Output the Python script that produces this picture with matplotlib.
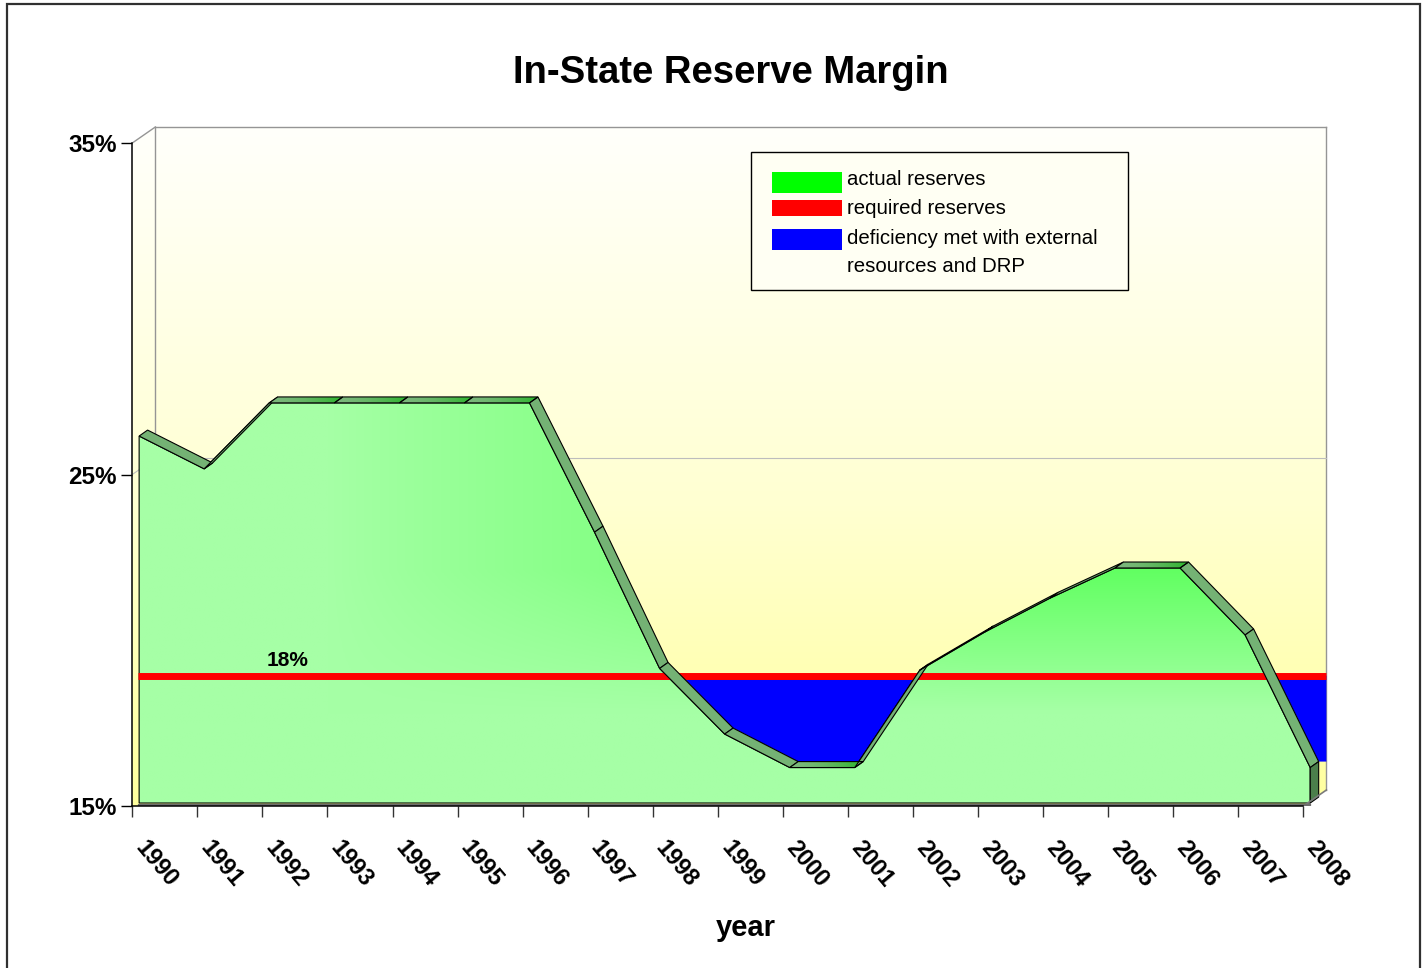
#!/usr/bin/env python3
"""In-State Reserve Margin chart, redrawn with matplotlib (Excel 3D area look)."""

from __future__ import annotations

import matplotlib

matplotlib.use("Agg")

import matplotlib.pyplot as plt
import matplotlib.transforms as mtransforms
import numpy as np
from matplotlib.colors import LinearSegmentedColormap, to_rgb
from matplotlib.patches import Polygon, Rectangle


YEARS = [
    "1990", "1991", "1992", "1993", "1994", "1995", "1996", "1997", "1998", "1999",
    "2000", "2001", "2002", "2003", "2004", "2005", "2006", "2007", "2008",
]
ACTUAL_RESERVES = [
    26.16, 25.17, 27.16, 27.16, 27.16, 27.16, 27.16, 23.26, 19.15, 17.17,
    16.16, 16.16, 19.1, 20.25, 21.27, 22.18, 22.18, 20.16, 16.16,
]
REQUIRED_RESERVES = 18.93
REQUIRED_LABEL = "18%"
Y_TICKS = [15, 25, 35]

LEGEND_LABELS = [
    "actual reserves",
    "required reserves",
    "deficiency met with external\nresources and DRP",
]

COLORS = {
    "face_light": "#A6FFA6",
    "face_dark": "#62FF62",
    "band": "#74B274",
    "band_flat_start": "#7CB87C",
    "band_flat_end": "#2CB52C",
    "end_face": "#4B7F4B",
    "legend_green": "#00FF00",
    "red": "#FF0000",
    "blue": "#0000FF",
    "wall_edge": "#959595",
    "grid": "#BDBDBD",
}

WALL_CMAP = LinearSegmentedColormap.from_list(
    "wall", [(0.0, "#FFFF9E"), (0.45, "#FFFFD2"), (1.0, "#FFFFFB")]
)

FIG_W, FIG_H = 1422, 968

# fake 3D geometry, in data units (categories, percent)
WX, WY = 0.354, 0.483   # wall depth
SX, SY = 0.105, 0.09    # series front face offset
BX, BY = 0.13, 0.18     # series thickness


def px(xp: float, yp: float) -> tuple[float, float]:
    return xp / FIG_W, 1 - yp / FIG_H


def draw_wall(ax, last: int) -> None:
    top = Y_TICKS[-1]
    bottom = Y_TICKS[0]
    outline = [
        (0, bottom), (0, top), (WX, top + WY), (last + WX, top + WY),
        (last + WX, bottom + WY), (last, bottom),
    ]
    clip = Polygon(outline, closed=True, fc="none", ec="none")
    ax.add_patch(clip)
    im = ax.imshow(
        np.linspace(0, 1, 256)[:, None], cmap=WALL_CMAP, origin="lower",
        extent=[0, last + WX, bottom, top + WY], aspect="auto", zorder=1,
    )
    im.set_clip_path(clip)

    edge = dict(color=COLORS["wall_edge"], lw=1, zorder=2)
    ax.plot([WX, last + WX], [top + WY] * 2, **edge)
    ax.plot([0, WX], [top, top + WY], **edge)
    ax.plot([WX, WX], [bottom + WY, top + WY], **edge)
    ax.plot([last + WX] * 2, [bottom + WY, top + WY], **edge)
    for level in Y_TICKS[1:-1]:
        ax.plot([WX, last + WX], [level + WY] * 2, color=COLORS["grid"], lw=0.8, zorder=2)
        ax.plot([0, WX], [level, level + WY], color=COLORS["grid"], lw=0.8, zorder=2)
    ax.plot([last, last + WX], [bottom, bottom + WY], color="#7A7A7A", lw=1.2, zorder=7)


def draw_area(ax, x: np.ndarray, v: np.ndarray) -> None:
    last = x[-1]
    base = Y_TICKS[0]

    # deficiency: between required line and back edge of the series
    bx = np.append(x + SX + BX, last + WX)
    by = np.append(v + BY, v[-1] + BY)
    ax.fill_between(bx, by, REQUIRED_RESERVES, where=by < REQUIRED_RESERVES,
                    interpolate=True, color=COLORS["blue"], lw=0, zorder=3)

    # front face with a soft green gradient
    face_pts = [(x[0] + SX, base + SY), *zip(x + SX, v), (last + SX, base + SY)]
    face = Polygon(face_pts, closed=True, fc="none", ec="black", lw=0.8, zorder=4.5)
    ax.add_patch(face)
    gx_grid = np.linspace(0, last + 1, 400)
    gy_grid = np.linspace(base, max(v) + 1, 300)
    gx, gy = np.meshgrid(gx_grid, gy_grid)
    t = np.clip((gx - 3) / 10, 0, 1) ** 0.9 * np.clip((gy - 17.8) / 4.3, 0, 1)
    light = np.array(to_rgb(COLORS["face_light"]))
    dark = np.array(to_rgb(COLORS["face_dark"]))
    img = light + (dark - light) * t[..., None]
    im = ax.imshow(img, origin="lower", aspect="auto", zorder=4,
                   extent=[0, last + 1, base, max(v) + 1])
    im.set_clip_path(face)

    # required reserves line
    ax.plot([x[0] + SX * 0.8, last + WX], [REQUIRED_RESERVES] * 2,
            color=COLORS["red"], lw=5, solid_capstyle="butt", zorder=5)
    ax.text(2.38, REQUIRED_RESERVES + 0.3, REQUIRED_LABEL, ha="center", va="baseline",
            fontsize=15, fontweight="bold", zorder=8)

    # top band of the 3D area
    flat_cmap = LinearSegmentedColormap.from_list(
        "flat", [COLORS["band_flat_start"], COLORS["band_flat_end"]]
    )
    for i in range(len(x) - 1):
        x0, x1 = x[i] + SX, x[i + 1] + SX
        pts = [(x0, v[i]), (x1, v[i + 1]), (x1 + BX, v[i + 1] + BY), (x0 + BX, v[i] + BY)]
        if v[i] == v[i + 1]:
            band = Polygon(pts, closed=True, fc="none", ec="black", lw=0.8, zorder=6.5)
            ax.add_patch(band)
            gim = ax.imshow(np.linspace(0, 1, 64)[None, :] ** 1.6, cmap=flat_cmap,
                            origin="lower", aspect="auto", zorder=6,
                            extent=[x0, x1 + BX, v[i], v[i] + BY])
            gim.set_clip_path(band)
        else:
            ax.add_patch(Polygon(pts, closed=True, fc=COLORS["band"], ec="black",
                                 lw=0.8, zorder=6))

    end_pts = [
        (last + SX, base + SY), (last + SX, v[-1]),
        (last + SX + BX, v[-1] + BY), (last + SX + BX, base + SY + BY),
    ]
    ax.add_patch(Polygon(end_pts, closed=True, fc=COLORS["end_face"], ec="black",
                         lw=0.8, zorder=6))
    ax.plot([x[0] + SX, last + SX], [base + SY * 0.5] * 2, color="#6E6E6E", lw=1.6, zorder=7)


def style_axes(fig, ax, x: np.ndarray) -> None:
    last = x[-1]
    ax.set_xlim(0, last + 0.45)
    ax.set_ylim(Y_TICKS[0], Y_TICKS[-1] + 0.6)
    ax.patch.set_visible(False)
    for side in ("top", "right"):
        ax.spines[side].set_visible(False)
    ax.spines["left"].set_bounds(Y_TICKS[0], Y_TICKS[-1])
    ax.spines["bottom"].set_bounds(0, last)
    ax.spines["left"].set_linewidth(1.1)
    ax.spines["bottom"].set_linewidth(1.1)
    ax.spines["bottom"].set_zorder(8)

    ax.set_yticks(Y_TICKS, labels=[f"{t}%" for t in Y_TICKS], fontsize=17.5, fontweight="bold")
    ax.tick_params(axis="y", length=8, width=1, pad=3)

    ax.set_xticks(x, labels=YEARS, rotation=-50, ha="left", va="top",
                  rotation_mode="anchor", fontsize=17, fontweight="bold")
    ax.tick_params(axis="x", length=8, width=1, pad=14, color="#333333")
    offset = mtransforms.ScaledTranslation(0.16, 0, fig.dpi_scale_trans)
    for lbl in ax.get_xticklabels():
        lbl.set_transform(lbl.get_transform() + offset)

    ax.set_xlabel("year", fontsize=21, fontweight="bold")
    ax.xaxis.label.set_va("center")
    ax.xaxis.set_label_coords(0.511, -0.1786)


def draw_legend(fig) -> None:
    fig.add_artist(Rectangle(px(751, 290), 377 / FIG_W, 138 / FIG_H, transform=fig.transFigure,
                             fc="#FFFFF3", ec="black", lw=1))
    swatches = [
        (COLORS["legend_green"], 171.5, 21),
        (COLORS["red"], 200, 16),
        (COLORS["blue"], 228.5, 21),
    ]
    for color, top, height in swatches:
        fig.add_artist(Rectangle(px(771.5, top + height), 70 / FIG_W, height / FIG_H,
                                 transform=fig.transFigure, fc=color, ec="none"))
    label_y = [180, 208, 239]
    for label, yp in zip(LEGEND_LABELS, label_y):
        for k, line in enumerate(label.split("\n")):
            fig.text(*px(847, yp + 28 * k), line, ha="left", va="center", fontsize=14.7)


def main() -> None:
    plt.rcParams["font.family"] = ["Liberation Sans", "DejaVu Sans"]
    fig = plt.figure(figsize=(FIG_W / 100, FIG_H / 100), dpi=100)
    ax = fig.add_axes([132.3 / FIG_W, (FIG_H - 806) / FIG_H,
                       18.45 * 65.06 / FIG_W, 20.6 * 33.15 / FIG_H])

    x = np.arange(len(YEARS))
    v = np.array(ACTUAL_RESERVES)

    draw_wall(ax, x[-1])
    draw_area(ax, x, v)
    style_axes(fig, ax, x)
    draw_legend(fig)

    fig.text(*px(731, 73), "In-State Reserve Margin", ha="center", va="center",
             fontsize=27.5, fontweight="bold")
    fig.add_artist(Rectangle((7 / FIG_W, -0.1), 1413 / FIG_W, 964 / FIG_H + 0.1,
                             transform=fig.transFigure, fill=False, ec="#303030", lw=1.6))

    fig.savefig("out.png", dpi=100)
    plt.close(fig)


if __name__ == "__main__":
    main()
